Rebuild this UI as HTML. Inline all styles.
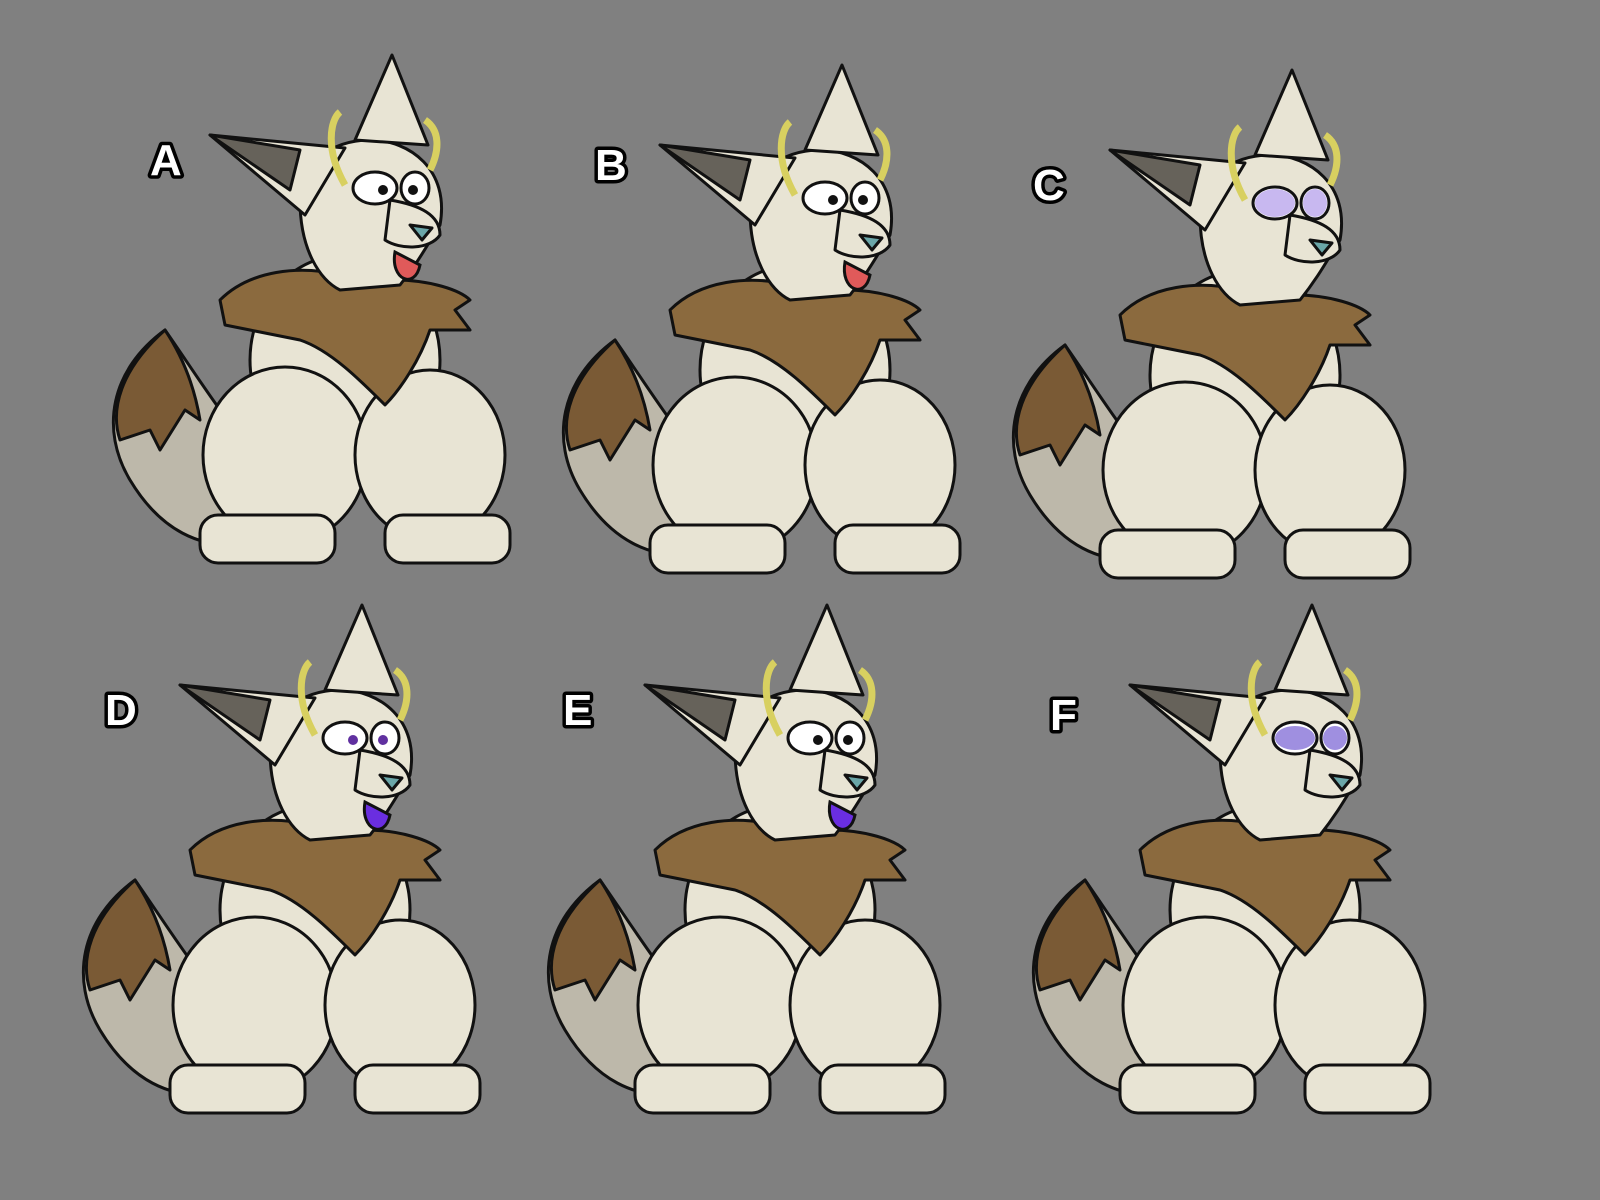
<!DOCTYPE html>
<html><head><meta charset="utf-8"><style>
html,body{margin:0;padding:0;background:#808080;}
svg{display:block}
.lbl{font-family:"Liberation Sans",sans-serif;font-weight:bold;font-size:44px;fill:#fff;stroke:#000;stroke-width:7px;paint-order:stroke;stroke-linejoin:round}
</style></head><body>
<svg width="1600" height="1200" viewBox="0 0 1600 1200" xmlns="http://www.w3.org/2000/svg">
<rect width="1600" height="1200" fill="#808080"/>
<defs>
<g id="ch" stroke="#111" stroke-width="3" stroke-linejoin="round">
  <!-- tail -->
  <path d="M165 330 C110 370 100 430 130 480 C160 530 200 550 250 545 L270 470 C230 430 200 380 165 330Z" fill="#bdb8aa"/>
  <path d="M165 330 C120 370 110 410 120 440 L150 430 L160 450 L185 410 L200 420 C195 390 185 360 165 330Z" fill="#7a5a35"/>
  <!-- torso -->
  <ellipse cx="345" cy="360" rx="95" ry="105" fill="#e8e4d4"/>
  <!-- thighs -->
  <ellipse cx="285" cy="455" rx="82" ry="88" fill="#e8e4d4"/>
  <ellipse cx="430" cy="455" rx="75" ry="85" fill="#e8e4d4"/>
  <!-- feet -->
  <rect x="200" y="515" width="135" height="48" rx="18" fill="#e8e4d4"/>
  <rect x="385" y="515" width="125" height="48" rx="18" fill="#e8e4d4"/>
  <!-- chest fur -->
  <path d="M220 300 C250 270 300 265 340 275 L395 280 C430 280 460 290 470 300 L455 310 L470 330 L430 330 C420 360 400 390 385 405 C360 380 330 350 300 340 L250 330 L225 325Z" fill="#8b6a3e"/>
  <!-- neck/head -->
  <path d="M300 200 C300 250 320 280 340 290 L400 285 C420 260 430 240 440 225 C450 170 410 140 370 140 C330 140 300 165 300 200Z" fill="#e8e4d4"/>
  <!-- ears -->
  <path d="M210 135 L345 148 L305 215 Z" fill="#e8e4d4"/>
  <path d="M210 135 L300 150 L290 190 Z" fill="#66625a"/>
  <path d="M355 140 L392 55 L428 145 Z" fill="#e8e4d4"/>
  <!-- muzzle -->
  <path d="M390 200 C420 205 440 215 440 235 C430 250 400 250 385 240Z" fill="#e8e4d4"/>
  <path d="M410 225 L432 228 L422 240Z" fill="#6aa6a8"/>
  <!-- eyes -->
  <ellipse class="e" cx="375" cy="188" rx="22" ry="16" fill="#fff"/>
  <ellipse class="e" cx="415" cy="188" rx="14" ry="16" fill="#fff"/>
  <!-- antennae -->
  <path d="M345 185 C325 150 330 120 340 112" fill="none" stroke="#d8d060" stroke-width="7"/>
  <path d="M430 170 C440 150 440 130 425 120" fill="none" stroke="#d8d060" stroke-width="7"/>
</g>
</defs>
<!-- A -->
<use href="#ch" x="0" y="0"/>
<circle cx="383" cy="190" r="5" fill="#111"/><circle cx="413" cy="190" r="5" fill="#111"/>
<path d="M395 252 C390 280 415 290 420 265 Z" fill="#e05a5a" stroke="#111" stroke-width="3"/>
<text class="lbl" x="150" y="175">A</text>
<!-- B -->
<use href="#ch" x="450" y="10"/>
<circle cx="833" cy="200" r="5" fill="#111"/><circle cx="863" cy="200" r="5" fill="#111"/>
<path d="M845 262 C840 290 865 300 870 275 Z" fill="#e05a5a" stroke="#111" stroke-width="3"/>
<text class="lbl" x="595" y="180">B</text>
<!-- C -->
<use href="#ch" x="900" y="15"/>
<ellipse cx="1275" cy="203" rx="20" ry="14" fill="#c8b8f0"/><ellipse cx="1315" cy="203" rx="12" ry="14" fill="#c8b8f0"/>
<text class="lbl" x="1033" y="200">C</text>
<!-- D -->
<use href="#ch" x="-30" y="550"/>
<circle cx="353" cy="740" r="5" fill="#6030a0"/><circle cx="383" cy="740" r="5" fill="#6030a0"/>
<path d="M365 802 C360 830 385 840 390 815 Z" fill="#6a2ee0" stroke="#111" stroke-width="3"/>
<text class="lbl" x="105" y="725">D</text>
<!-- E -->
<use href="#ch" x="435" y="550"/>
<circle cx="818" cy="740" r="5" fill="#111"/><circle cx="848" cy="740" r="5" fill="#111"/>
<path d="M830 802 C825 830 850 840 855 815 Z" fill="#6a2ee0" stroke="#111" stroke-width="3"/>
<text class="lbl" x="563" y="725">E</text>
<!-- F -->
<use href="#ch" x="920" y="550"/>
<ellipse cx="1295" cy="738" rx="20" ry="12" fill="#9f8fe0"/><ellipse cx="1335" cy="738" rx="12" ry="12" fill="#9f8fe0"/>
<text class="lbl" x="1050" y="730">F</text>
</svg>
</body></html>
